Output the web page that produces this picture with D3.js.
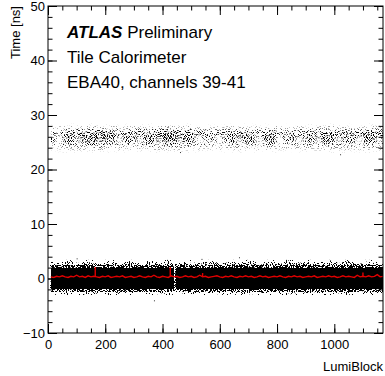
<!DOCTYPE html>
<html>
<head>
<meta charset="utf-8">
<script src="https://cdn.jsdelivr.net/npm/d3@7"></script>
<style>
  body { margin: 0; background: #fff; }
  svg { display: block; font-family: "Liberation Sans", Arial, Helvetica, sans-serif; }
</style>
</head>
<body>
<svg id="chart" width="385" height="376"></svg>
<script>
// lumiblock range and axis ticks
const xMax = 1170;
const xTicks = [0, 200, 400, 600, 800, 1000];
const yTicks = [-10, 0, 10, 20, 30, 40, 50];

// main band near 0 ns: occupancy per 0.5 ns slice [low, high, density]
const bandLowProfile = [
  [-3.0, -2.5, 0.1], [-2.5, -2.0, 0.5], [-2.0, 2.0, 1.0],
  [2.0, 2.5, 0.6], [2.5, 3.0, 0.3], [3.0, 3.5, 0.06]
];
const bandLowRanges = [[10, 441], [445, 1170]];

// secondary band near 26 ns
const bandHighProfile = [
  [23.0, 23.5, 0.05], [23.5, 24.0, 0.12], [24.0, 24.5, 0.22], [24.5, 25.0, 0.34],
  [25.0, 25.5, 0.45], [25.5, 26.0, 0.5], [26.0, 26.5, 0.5], [26.5, 27.0, 0.42],
  [27.0, 27.5, 0.28], [27.5, 28.0, 0.14], [28.0, 28.5, 0.05]
];
// relative density of the 26 ns band per 50 LB bin
const bandHighDensity = [0.8, 1.0, 1.1, 1.2, 1.0, 0.9, 1.0, 1.1, 1.2, 1.1, 0.9, 0.8,
                         0.9, 1.0, 0.9, 1.0, 0.8, 0.9, 1.0, 1.1, 1.0, 0.9, 1.1, 1.0];
const binWidth = 50;

// isolated hits
const outliers = [[100, 3.7], [370, -4.0], [536, 3.6], [667, 3.9], [461, 23.2], [1020, 22.8]];

// mean time per 10 LB (red)
const meanStart = 10, meanStep = 10;
const meanTime = [
  0.3, 0.2, 0.4, 0.3, 0.5, 0.3, 0.2, 0.4, 0.3, 0.6,
  0.3, 0.4, 0.2, 0.5, 0.3, 0.4, 0.3, 0.2, 0.4, 0.3,
  0.5, 0.2, 0.3, 0.4, 0.3, 0.5, 0.2, 0.3, 0.4, 0.2,
  0.3, 0.5, 0.3, 0.2, 0.4, 0.3, 0.6, 0.3, 0.2, 0.4,
  0.3, 0.2, 0.5, 0.3, 0.4, 0.2, 0.3, 0.5, 0.3, 0.4,
  0.2, 0.3, 0.6, 0.3, 0.4, 0.2, 0.3, 0.4, 0.5, 0.3,
  0.2, 0.4, 0.3, 0.5, 0.3, 0.2, 0.4, 0.3, 0.5, 0.3,
  0.4, 0.2, 0.3, 0.5, 0.3, 0.4, 0.2, 0.3, 0.4, 0.3,
  0.5, 0.3, 0.2, 0.4, 0.3, 0.5, 0.3, 0.4, 0.2, 0.3,
  0.4, 0.3, 0.5, 0.2, 0.3, 0.4, 0.3, 0.5, 0.3, 0.4,
  0.2, 0.3, 0.5, 0.3, 0.4, 0.3, 0.2, 0.6, 0.3, 0.4,
  0.3, 0.5, 0.3, 0.4, 0.7, 0.3, 0.4
];
const meanSpikes = [[165, 2.1], [427, 2.1], [540, 1.0], [1100, 1.1]];

const svg = d3.select("#chart");
const mLeft = 48, mRight = 383, mTop = 6, mBottom = 333;

const x = d3.scaleLinear().domain([0, xMax]).range([mLeft, mRight]);
const y = d3.scaleLinear().domain([-10, 50]).range([mBottom, mTop]);

// speckle filters: turn a density (alpha) into scattered single pixel hits
const defs = svg.append("defs");
function speckle(id, k, seed) {
  const f = defs.append("filter").attr("id", id)
    .attr("filterUnits", "userSpaceOnUse")
    .attr("x", mLeft).attr("y", mTop).attr("width", mRight - mLeft).attr("height", mBottom - mTop)
    .attr("color-interpolation-filters", "sRGB");
  f.append("feTurbulence").attr("type", "fractalNoise").attr("baseFrequency", 0.95)
    .attr("numOctaves", 1).attr("seed", seed).attr("result", "noise");
  f.append("feColorMatrix").attr("in", "noise").attr("type", "matrix")
    .attr("values", "0 0 0 0 0  0 0 0 0 0  0 0 0 0 0  1 0 0 0 0").attr("result", "na");
  f.append("feComponentTransfer").attr("in", "na").attr("result", "nu")
    .append("feFuncA").attr("type", "linear").attr("slope", 3).attr("intercept", -1);
  f.append("feComponentTransfer").attr("in", "nu").attr("result", "nc")
    .append("feFuncA").attr("type", "linear").attr("slope", 0.88).attr("intercept", 0.03);
  f.append("feComposite").attr("in", "SourceGraphic").attr("in2", "nc")
    .attr("operator", "arithmetic").attr("k1", 0).attr("k2", k).attr("k3", -k).attr("k4", 0);
}
speckle("speckleHard", 30, 3);
speckle("speckleSoft", 3, 7);

const low = svg.append("g").attr("filter", "url(#speckleHard)");
bandLowRanges.forEach(r => {
  low.selectAll(null)
    .data(bandLowProfile)
    .enter().append("rect")
    .attr("x", x(r[0]))
    .attr("width", x(r[1]) - x(r[0]))
    .attr("y", d => y(d[1]))
    .attr("height", d => y(d[0]) - y(d[1]))
    .attr("fill", "#000")
    .attr("fill-opacity", d => d[2]);
});

// high band cells
const cells = [];
bandHighDensity.forEach((dens, i) => {
  const x0 = Math.max(10, i * binWidth), x1 = Math.min(xMax, (i + 1) * binWidth);
  if (x1 <= x0) return;
  bandHighProfile.forEach(p => cells.push({ x0, x1, y0: p[0], y1: p[1], a: Math.min(1, p[2] * dens) }));
});
svg.append("g").attr("filter", "url(#speckleSoft)")
  .selectAll(null)
  .data(cells)
  .enter().append("rect")
  .attr("x", d => x(d.x0))
  .attr("width", d => x(d.x1) - x(d.x0))
  .attr("y", d => y(d.y1))
  .attr("height", d => y(d.y0) - y(d.y1))
  .attr("fill", "#000")
  .attr("fill-opacity", d => d.a);

svg.append("g").selectAll(null)
  .data(outliers)
  .enter().append("rect")
  .attr("x", d => x(d[0]))
  .attr("y", d => y(d[1]))
  .attr("width", 1).attr("height", 1)
  .attr("fill", "#333");

// mean line
const line = d3.line()
  .x((d, i) => x(meanStart + i * meanStep))
  .y(d => y(d));
svg.append("path")
  .datum(meanTime)
  .attr("d", line)
  .attr("fill", "none")
  .attr("stroke", "#e00000")
  .attr("stroke-width", 1.4);

svg.append("g").selectAll(null)
  .data(meanSpikes)
  .enter().append("line")
  .attr("x1", d => x(d[0])).attr("x2", d => x(d[0]))
  .attr("y1", y(0.3)).attr("y2", d => y(d[1]))
  .attr("stroke", "#e00000")
  .attr("stroke-width", 1.4);

// axes, ROOT style ticks inward on all sides
const fontSize = 13;
function styleAxis(g) {
  g.select(".domain").remove();
  g.selectAll("line").attr("stroke", "#000");
  g.selectAll("text").attr("font-size", fontSize).attr("fill", "#000")
    .attr("font-family", '"Liberation Sans", Arial, sans-serif');
}
const xMinor = d3.range(0, xMax + 1, 50);
const yMinor = d3.range(-10, 51, 2);

svg.append("g").attr("transform", `translate(0,${mBottom})`)
  .call(d3.axisBottom(x).tickValues(xTicks).tickSize(-9).tickSizeOuter(0).tickPadding(7).tickFormat(d3.format("d")))
  .call(styleAxis);
svg.append("g").attr("transform", `translate(0,${mBottom})`)
  .call(d3.axisBottom(x).tickValues(xMinor).tickSize(-4.5).tickFormat(""))
  .call(styleAxis);
svg.append("g").attr("transform", `translate(0,${mTop})`)
  .call(d3.axisTop(x).tickValues(xTicks).tickSize(-9).tickFormat(""))
  .call(styleAxis);
svg.append("g").attr("transform", `translate(0,${mTop})`)
  .call(d3.axisTop(x).tickValues(xMinor).tickSize(-4.5).tickFormat(""))
  .call(styleAxis);

svg.append("g").attr("transform", `translate(${mLeft},0)`)
  .call(d3.axisLeft(y).tickValues(yTicks).tickSize(-9).tickPadding(3).tickFormat(d => d < 0 ? "\u2212" + Math.abs(d) : d))
  .call(styleAxis);
svg.append("g").attr("transform", `translate(${mLeft},0)`)
  .call(d3.axisLeft(y).tickValues(yMinor).tickSize(-4.5).tickFormat(""))
  .call(styleAxis);
svg.append("g").attr("transform", `translate(${mRight},0)`)
  .call(d3.axisRight(y).tickValues(yTicks).tickSize(-9).tickFormat(""))
  .call(styleAxis);
svg.append("g").attr("transform", `translate(${mRight},0)`)
  .call(d3.axisRight(y).tickValues(yMinor).tickSize(-4.5).tickFormat(""))
  .call(styleAxis);

// frame
svg.append("rect")
  .attr("x", mLeft).attr("y", mTop)
  .attr("width", mRight - mLeft).attr("height", mBottom - mTop)
  .attr("fill", "none").attr("stroke", "#000").attr("stroke-width", 1);

// axis titles
svg.append("text")
  .attr("transform", `translate(20,${mTop}) rotate(-90)`)
  .attr("text-anchor", "end")
  .attr("font-size", 13)
  .text("Time [ns]");
svg.append("text")
  .attr("x", mRight).attr("y", 371)
  .attr("text-anchor", "end")
  .attr("font-size", 13)
  .text("LumiBlock");

// labels
const lab = svg.append("text").attr("x", 67).attr("y", 38).attr("font-size", 17);
lab.append("tspan").attr("font-weight", "bold").attr("font-style", "italic").text("ATLAS");
lab.append("tspan").text(" Preliminary");
svg.append("text").attr("x", 67).attr("y", 63).attr("font-size", 17).text("Tile Calorimeter");
svg.append("text").attr("x", 67).attr("y", 88).attr("font-size", 17).text("EBA40, channels 39-41");
</script>
</body>
</html>
